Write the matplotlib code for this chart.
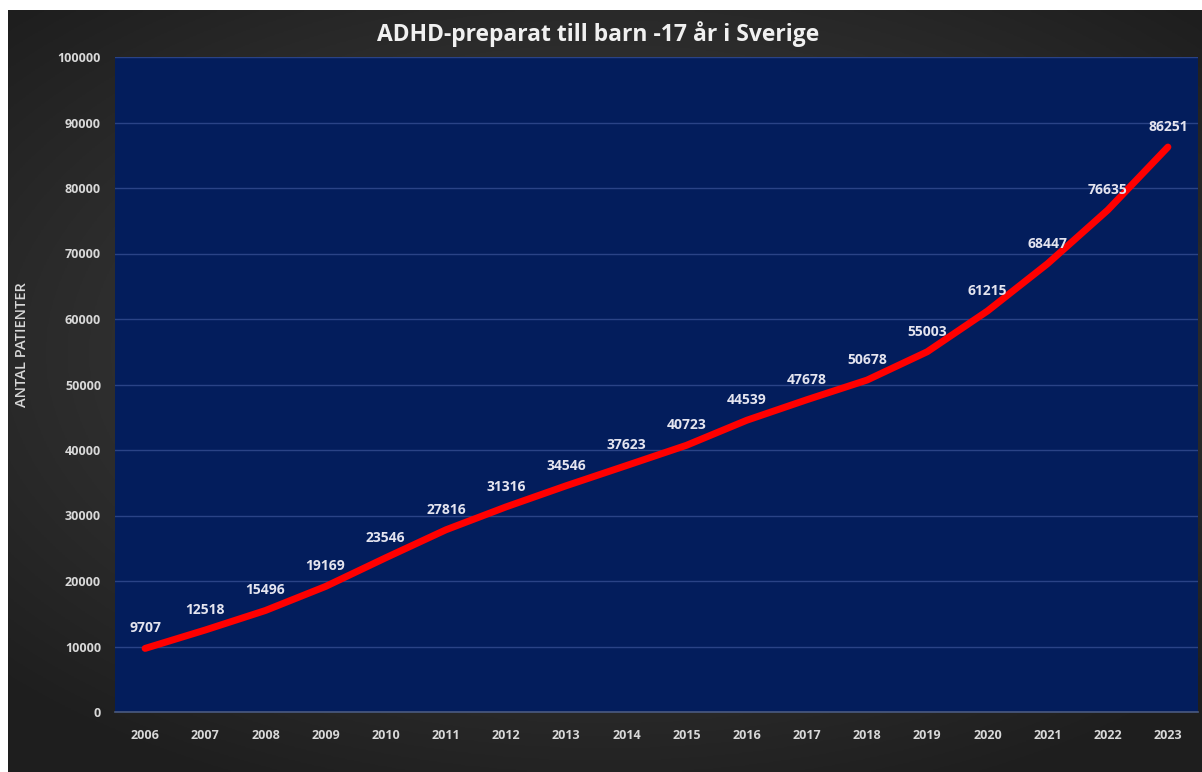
import numpy as np
import matplotlib
matplotlib.use('Agg')
import matplotlib.pyplot as plt

years = [str(y) for y in range(2006, 2024)]
patients = [9707, 12518, 15496, 19169, 23546, 27816, 31316, 34546, 37623,
            40723, 44539, 47678, 50678, 55003, 61215, 68447, 76635, 86251]

title = 'ADHD-preparat till barn -17 år i Sverige'
ylabel = 'ANTAL PATIENTER'

plt.rcParams['font.family'] = ['Open Sans', 'DejaVu Sans']

fig = plt.figure(figsize=(12.02, 7.72), dpi=100, facecolor='white')

# dark gradient background (white margin on top and left like the screenshot)
bg = fig.add_axes([8 / 1202, 0, 1194 / 1202, 762 / 772])
bg.axis('off')
gx, gy = np.meshgrid(np.linspace(-1, 1, 400), np.linspace(-1, 1, 260))
r = np.sqrt((gx * 0.9) ** 2 + ((gy + 0.1) * 1.0) ** 2)
shade = np.clip(0.27 - 0.12 * r, 0.12, 0.27)
bg.imshow(np.dstack([shade, shade, shade]), aspect='auto', extent=[0, 1, 0, 1])
bg.set_xlim(0, 1)
bg.set_ylim(0, 1)

ax = fig.add_axes([115 / 1202, 60 / 772, 1083 / 1202, 655 / 772])
ax.set_facecolor('#031d5c')
x = np.arange(len(years))
ax.plot(x, patients, color='#ff0000', lw=5, solid_capstyle='round',
        solid_joinstyle='round', zorder=3)

for xi, v in zip(x, patients):
    ax.annotate(str(v), (xi, v), xytext=(0, 14.5), textcoords='offset points',
                ha='center', va='center', fontsize=10, fontweight='bold',
                color='#e4e4ef', zorder=4)

ax.set_xlim(-0.5, len(years) - 0.5)
ax.set_ylim(0, 100000)
ax.set_yticks(range(0, 100001, 10000))
ax.set_xticks(x)
ax.set_xticklabels(years)
ax.grid(axis='y', color='#2a4386', lw=1)
ax.set_axisbelow(True)
for s in ['top', 'right', 'left']:
    ax.spines[s].set_visible(False)
ax.spines['bottom'].set_color('#4a5a80')
ax.spines['bottom'].set_linewidth(1.2)
ax.tick_params(length=0, colors='#d8d8d8', labelsize=9)
ax.tick_params(axis='y', pad=10)
ax.tick_params(axis='x', pad=12)
for lab in ax.get_xticklabels() + ax.get_yticklabels():
    lab.set_fontweight('bold')

fig.text(22 / 1202, 1 - 345 / 772, ylabel, rotation=90, ha='center', va='center',
         fontsize=10.5, fontweight='semibold', color='#d8d8d8')
fig.text(598 / 1202, 1 - 34 / 772, title, ha='center', va='center',
         fontsize=16.5, fontweight='bold', color='#f0f0f0')

fig.savefig('out.png', dpi=100, facecolor='white')
